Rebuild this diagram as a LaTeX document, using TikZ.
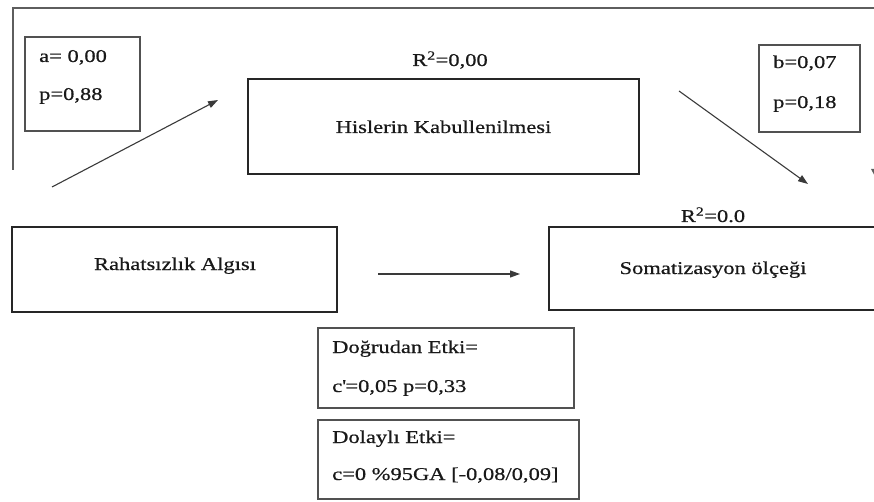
\documentclass[tikz,border=0pt]{standalone}
\usepackage{fontspec}
\setmainfont[FakeStretch=1.25,FakeBold=0.6]{Liberation Serif}
\usetikzlibrary{arrows.meta,calc}

\definecolor{framegray}{HTML}{5E5E5E}
\definecolor{boxline}{HTML}{262626}
\definecolor{arrowgray}{HTML}{3A3A3A}

\tikzset{
  every node/.style={font=\fontsize{18}{22}\selectfont, text=black!90},
  varbox/.style={draw=boxline, line width=1.8pt, rectangle, inner sep=0pt},
  statbox/.style={draw=boxline!80, line width=1.3pt, rectangle, inner sep=0pt},
  txt/.style={inner sep=0pt, anchor=base west},
  ctxt/.style={inner sep=0pt, anchor=base},
  path arrow/.style={draw=arrowgray, line width=1.1pt,
    -{Triangle[length=10pt,width=7pt]}},
  frameline/.style={draw=framegray, line width=2.6pt,
    -{Triangle[length=10pt,width=9pt]}}
}

\begin{document}
\begin{tikzpicture}[x=1pt, y=-1pt]
  \useasboundingbox (0,0) rectangle (874,502);
  \clip (0,0) rectangle (874,502);

  % outer bracket frame around the mediator path
  \coordinate (fA) at (13,170);
  \coordinate (fB) at (13,8);
  \coordinate (fC) at (876,8);
  \coordinate (fD) at (876,179);
  \draw[frameline] (fA) -- (fB) -- (fC) -- (fD);

  % variable boxes
  \node[varbox, minimum width=391pt, minimum height=95pt] (med) at (443.5,126.5) {};
  \node[ctxt] (medT) at (443.5,133) {Hislerin Kabullenilmesi};
  \node[varbox, minimum width=325pt, minimum height=85pt] (iv) at (174.5,269.5) {};
  \node[ctxt] (ivT) at (175,270) {Rahatsızlık Algısı};
  \node[varbox, minimum width=329pt, minimum height=83pt] (dv) at (713.5,268.5) {};
  \node[ctxt] (dvT) at (713,274) {Somatizasyon ölçeği};

  % explained variance labels
  \node[ctxt] (r2med) at (450,66) {R\textsuperscript{2}=0,00};
  \node[ctxt] (r2dv) at (713,222) {R\textsuperscript{2}=0.0};

  % coefficient boxes
  \node[statbox, minimum width=115pt, minimum height=94pt] (abox) at (82.5,84) {};
  \node[txt] (a1) at (39,62) {a= 0,00};
  \node[txt] (a2) at (39,100) {p=0,88};

  \node[statbox, minimum width=101pt, minimum height=87pt] (bbox) at (809.5,88.5) {};
  \node[txt] (b1) at (773,68) {b=0,07};
  \node[txt] (b2) at (773,108) {p=0,18};

  \node[statbox, minimum width=256pt, minimum height=80pt] (dbox) at (446,368) {};
  \node[txt] (d1) at (332,353) {Doğrudan Etki=};
  \node[txt] (d2) at (332,392) {c\textquotesingle=0,05 p=0,33};

  \node[statbox, minimum width=261pt, minimum height=79pt] (ibox) at (448.5,459.5) {};
  \node[txt] (i1) at (332,443) {Dolaylı Etki=};
  \node[txt] (i2) at (332,480) {c=0 \%95GA [-0,08/0,09]};

  % path arrows
  \coordinate (aS) at (52,187);
  \coordinate (aE) at (218,100);
  \draw[path arrow] (aS) -- (aE);

  \coordinate (bS) at (679,91);
  \coordinate (bE) at (808,184);
  \draw[path arrow] (bS) -- (bE);

  \coordinate (cS) at (378,274);
  \coordinate (cE) at (520,274);
  \draw[path arrow] (cS) -- (cE);
\end{tikzpicture}
\end{document}
